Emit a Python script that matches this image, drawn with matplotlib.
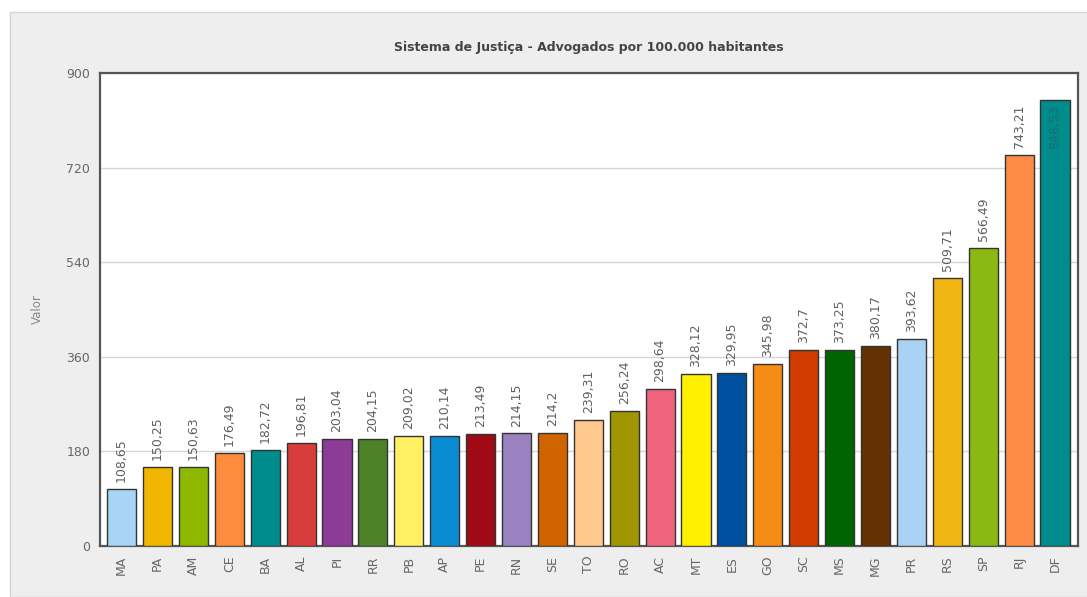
import matplotlib.pyplot as plt
from matplotlib.patches import Rectangle

plt.rcParams['font.family'] = ['DejaVu Sans']

# dados do gráfico
estados = ['MA', 'PA', 'AM', 'CE', 'BA', 'AL', 'PI', 'RR', 'PB', 'AP', 'PE', 'RN', 'SE', 'TO',
           'RO', 'AC', 'MT', 'ES', 'GO', 'SC', 'MS', 'MG', 'PR', 'RS', 'SP', 'RJ', 'DF']
valores = [108.65, 150.25, 150.63, 176.49, 182.72, 196.81, 203.04, 204.15, 209.02, 210.14,
           213.49, 214.15, 214.2, 239.31, 256.24, 298.64, 328.12, 329.95, 345.98, 372.7,
           373.25, 380.17, 393.62, 509.71, 566.49, 743.21, 848.53]
rotulos = ['108,65', '150,25', '150,63', '176,49', '182,72', '196,81', '203,04', '204,15',
           '209,02', '210,14', '213,49', '214,15', '214,2', '239,31', '256,24', '298,64',
           '328,12', '329,95', '345,98', '372,7', '373,25', '380,17', '393,62', '509,71',
           '566,49', '743,21', '848,53']
cores = ['#a8d4f5', '#f2b600', '#8cb800', '#ff8c3c', '#008c8c', '#d83c3c', '#8c3c96',
         '#4e8228', '#fff064', '#0a8cd2', '#a00a14', '#9a82c0', '#d26400', '#ffc88c',
         '#a09600', '#f0647d', '#fff000', '#0050a0', '#f58c14', '#d23c00', '#006400',
         '#643200', '#aad2f5', '#f2b614', '#8cb814', '#ff8c46', '#008c8c']
ticks_y = [0, 180, 360, 540, 720, 900]

fig = plt.figure(figsize=(10.87, 5.97), dpi=100, facecolor='white')
fig.patches.append(Rectangle((10 / 1087, 0), 1, (597 - 12) / 597, transform=fig.transFigure,
                             facecolor='#eeeeee', edgecolor='#d4d4d4', lw=1, zorder=-5))

ax = fig.add_axes([100 / 1087, 1 - 546 / 597, 978 / 1087, 473 / 597])
ax.set_facecolor('white')

x = list(range(len(estados)))
ax.bar(x, valores, width=0.81, color=cores, edgecolor='#333333', linewidth=1, zorder=3)

for i, (v, r) in enumerate(zip(valores, rotulos)):
    if v > 800:
        ax.annotate(r, (i, v), xytext=(0, -4), textcoords='offset points', rotation=90,
                    ha='center', va='top', fontsize=9, color='#1a6e6e', zorder=4)
    else:
        ax.annotate(r, (i, v), xytext=(0, 5), textcoords='offset points', rotation=90,
                    ha='center', va='bottom', fontsize=9, color='#606060', zorder=4)

ax.set_xlim(-0.6, len(estados) - 0.36)
ax.set_ylim(0, 900)
ax.set_yticks(ticks_y)
ax.set_xticks(x)
ax.set_xticklabels(estados, rotation=90)
ax.tick_params(axis='both', colors='#666666', labelsize=9, length=0, pad=7)
ax.grid(axis='y', color='#d6d6d6', linewidth=1, zorder=0)
for s in ax.spines.values():
    s.set_color('#555555')
    s.set_linewidth(1.6)

ax.set_ylabel('Valor', color='#888888', fontsize=8.5, labelpad=16)
ax.set_title('Sistema de Justiça - Advogados por 100.000 habitantes', fontsize=9,
             fontweight='bold', color='#444444', pad=16)

fig.savefig('out.png', dpi=100, facecolor=fig.get_facecolor())
